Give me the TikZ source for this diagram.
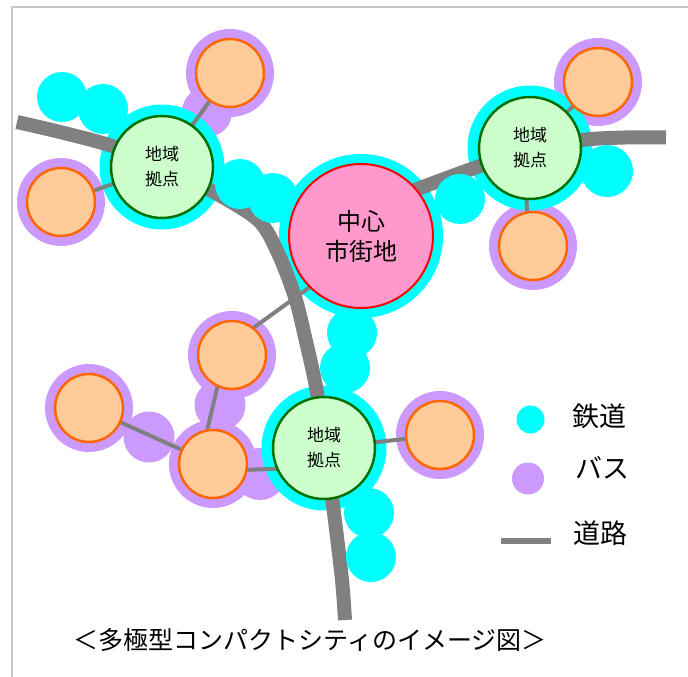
\documentclass[tikz,border=0pt]{standalone}
\usepackage{fontspec}
\setmainfont{Noto Sans CJK JP}
\definecolor{railc}{HTML}{00FFFF}
\definecolor{busc}{HTML}{CC99FF}
\definecolor{townc}{HTML}{FFCC99}
\definecolor{townl}{HTML}{FF6600}
\definecolor{hubc}{HTML}{CCFFCC}
\definecolor{hubl}{HTML}{007000}
\definecolor{cenc}{HTML}{FF99CC}
\definecolor{cenl}{HTML}{FF0000}
\definecolor{roadc}{HTML}{808080}
\definecolor{framec}{HTML}{C8C8C8}
\tikzset{
  disc/.style={circle, inner sep=0pt, outer sep=0pt, minimum size=#1},
  rail/.style={disc=#1, fill=railc}, rail/.default=50pt,
  bus/.style={disc=#1, fill=busc}, bus/.default=50pt,
  busring/.style={disc=88pt, fill=busc},
  town/.style={disc=68pt, fill=townc, draw=townl, line width=2.5pt},
  hubring/.style={disc=125pt, fill=railc},
  hub/.style={disc=102pt, fill=hubc, draw=hubl, line width=2.5pt, align=center, font=\fontsize{17}{25}\selectfont},
  cen/.style={disc=144pt, fill=cenc, draw=cenl, line width=2pt, align=center, font=\fontsize{24}{30}\selectfont},
  link/.style={draw=roadc, line width=4pt},
  roadline/.style={draw=roadc, line width=14pt},
  legtext/.style={font=\fontsize{27}{27}\selectfont, inner sep=0pt}
}
\begin{document}
\begin{tikzpicture}[x=1pt, y=-1pt]
\useasboundingbox (0,0) rectangle (688,677);
% frame
\draw[framec, line width=2pt] (12,677) -- (12,7) -- (688,7);

% bus areas
\node[bus] (p1) at (207,112) {};
\node[bus=51pt] (p2) at (149,437) {};
\node[bus=51pt] (p3) at (220,405) {};
\node[bus=52pt] (p4) at (260,474) {};
\node[busring] (b1) at (230,73) {};
\node[busring] (b2) at (61,202) {};
\node[busring] (b3) at (598,82) {};
\node[busring] (b4) at (533,246) {};
\node[busring] (b5) at (440,435) {};
\node[busring] (b6) at (232,355) {};
\node[busring] (b7) at (89,408) {};
\node[busring] (b8) at (213,464) {};

% rail rings around hubs
\node[hubring] (h1r) at (162,167) {};
\node[hubring] (h2r) at (530,148) {};
\node[hubring] (h3r) at (324,448) {};
\node[disc=164pt, fill=railc] (cr) at (361,236) {};

% main nodes (placed now so links can refer to them; redrawn on top below)
\path (162,167) node[disc=102pt] (h1) {};
\path (530,148) node[disc=102pt] (h2) {};
\path (324,448) node[disc=102pt] (h3) {};
\path (361,236) node[disc=144pt] (c) {};
\path (230,73) node[disc=68pt] (o1) {};
\path (61,202) node[disc=68pt] (o2) {};
\path (598,82) node[disc=68pt] (o3) {};
\path (533,246) node[disc=68pt] (o4) {};
\path (440,435) node[disc=68pt] (o5) {};
\path (232,355) node[disc=68pt] (o6) {};
\path (89,408) node[disc=68pt] (o7) {};
\path (213,464) node[disc=68pt] (o8) {};

% links
\draw[link] (h1) -- (o1);
\draw[link] (h1) -- (o2);
\draw[link] (h2) -- (o3);
\draw[link] (h2.266) -- (o4.100);
\draw[link] (c.225) -- (o6.52);
\draw[link] (o6.245) -- (o8.100);
\draw[link] (o7) -- (o8);
\draw[link] (o8.-10) -- (h3.204);
\draw[link] (h3) -- (o5);

% roads
\draw[roadline] plot[smooth, tension=0.5] coordinates {(17,122) (60,132) (112,146) (162,167) (210,190) (258,220) (278,253) (295,297) (305,337) (316,387) (325,448) (334,513) (342,580) (345,620)};
\draw[roadline] plot[smooth, tension=0.5] coordinates {(385,201) (420,188) (480,166) (530,150) (582,140) (625,137.5) (666,137.5)};

% rail stations
\node[rail] (r1) at (62,97) {};
\node[rail] (r2) at (103,109) {};
\node[rail] (r3) at (240,184) {};
\node[rail] (r4) at (273,198) {};
\node[rail] (r5) at (460,199) {};
\node[rail=52pt] (r6) at (607,171) {};
\node[rail] (r7) at (352,333) {};
\node[rail] (r8) at (345,368) {};
\node[rail] (r9) at (369,513) {};
\node[rail] (r10) at (371,557) {};

% towns
\foreach \n in {o1,o2,o3,o4,o5,o6,o7,o8}{\node[town] at (\n) {};}
% hubs
\node[hub] at (h1) {地域\\拠点};
\node[hub] at (h2) {地域\\拠点};
\node[hub] at (h3) {地域\\拠点};
\node[cen] at (c) {中心\\市街地};

% legend
\node[disc=28pt, fill=railc] (lr) at (530.5,419.5) {};
\node[disc=32pt, fill=busc] (lb) at (528,478.5) {};
\coordinate (lg1) at (501,541);
\coordinate (lg2) at (551,541);
\draw[draw=roadc, line width=6pt] (lg1) -- (lg2);
\node[legtext] (tr) at (599.5,416) {鉄道};
\node[legtext] (tb) at (602,468) {バス};
\node[legtext] (tl) at (600.5,533) {道路};

% title
\node[font=\fontsize{25}{25}\selectfont, inner sep=0pt] (title) at (310,640) {＜多極型コンパクトシティのイメージ図＞};
\end{tikzpicture}
\end{document}
